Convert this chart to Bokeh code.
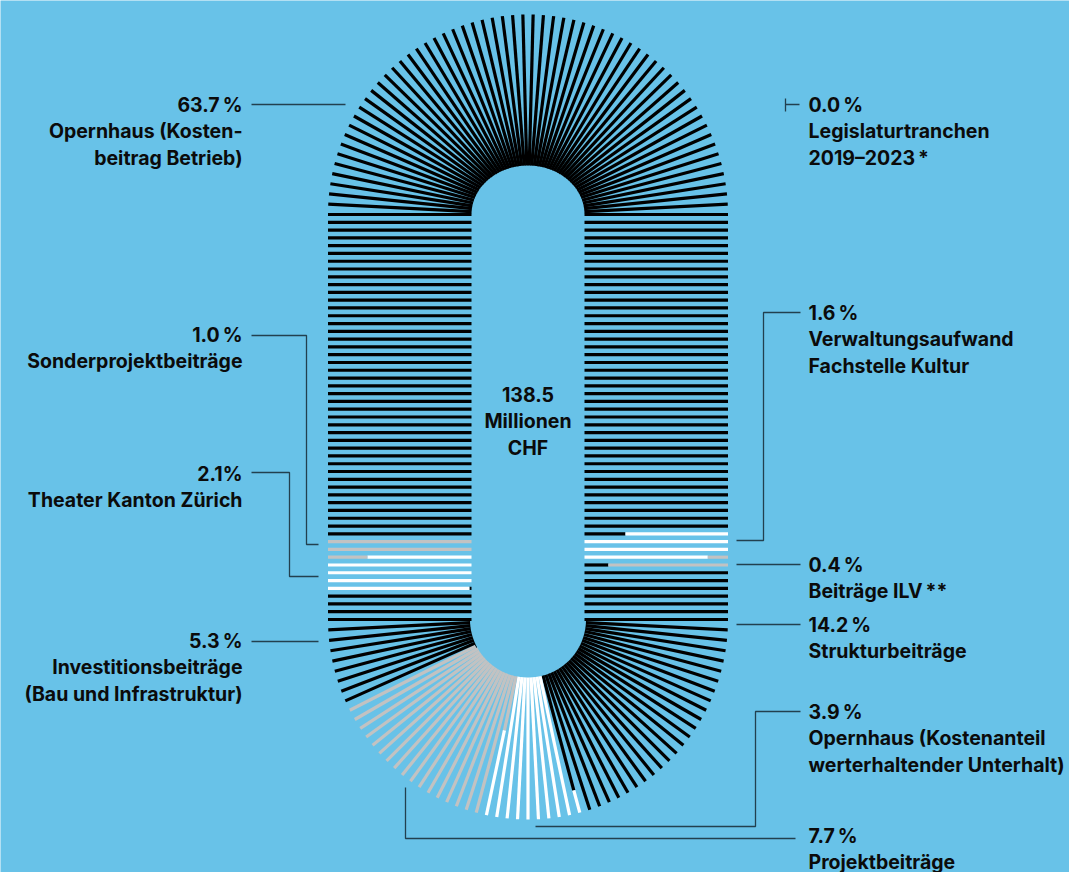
import numpy as np
from bokeh.plotting import figure
from bokeh.models import Range1d, ColumnDataSource
from bokeh.embed import file_html
from bokeh.resources import INLINE
from bokeh.core.properties import value

# ---------------- data ----------------
categories = [
    "Opernhaus (Kostenbeitrag Betrieb)",
    "Legislaturtranchen 2019–2023 *",
    "Verwaltungsaufwand Fachstelle Kultur",
    "Beiträge ILV **",
    "Strukturbeiträge",
    "Opernhaus (Kostenanteil werterhaltender Unterhalt)",
    "Projektbeiträge",
    "Investitionsbeiträge (Bau und Infrastruktur)",
    "Theater Kanton Zürich",
    "Sonderprojektbeiträge",
]
# amounts in million CHF (total 138.5)
amounts = [88.2, 0.0, 2.2, 0.6, 19.7, 5.4, 10.7, 7.4, 2.9, 1.4]
share_labels = ["63.7\u2009%", "0.0\u2009%", "1.6\u2009%", "0.4\u2009%", "14.2\u2009%",
                "3.9\u2009%", "7.7\u2009%", "5.3\u2009%", "2.1%", "1.0\u2009%"]
name_lines = [
    ["Opernhaus (Kosten-", "beitrag Betrieb)"],
    ["Legislaturtranchen", "2019–2023\u2009*"],
    ["Verwaltungsaufwand", "Fachstelle Kultur"],
    ["Beiträge ILV\u2009**"],
    ["Strukturbeiträge"],
    ["Opernhaus (Kostenanteil", "werterhaltender Unterhalt)"],
    ["Projektbeiträge"],
    ["Investitionsbeiträge", "(Bau und Infrastruktur)"],
    ["Theater Kanton Zürich"],
    ["Sonderprojektbeiträge"],
]
total_lines = ["138.5", "Millionen", "CHF"]

# ---------------- style / layout ----------------
W, H = 1069, 872
BG = "#68C2E8"
BLACK, WHITE, GREY = "#000000", "#FFFFFF", "#C2C2C2"
cat_colors = [BLACK, WHITE, WHITE, GREY, BLACK, WHITE, GREY, BLACK, WHITE, GREY]
earlier_inner = [True, True, True, False, True, False, False, True, True, True]
LEADER = "#22404f"
FONT = value("Inter")
FS = "19.5px"

CX, CY_TOP, CY_BOT = 527.5, 214.0, 619.0
R_IN, R_OUT = 56.5, 200.0
R_IN_TOP_V = 49.0          # the upper hole is slightly flattened
N_TOP, N_SIDE, N_BOT = 60, 53, 59
N = N_TOP + 2 * N_SIDE + N_BOT
START = N_TOP + N_SIDE + N_BOT + 11   # sequence begins on left side


def line_geom(i):
    """centre, unit direction, inner radius for path position i (clockwise)."""
    if i < N_TOP:
        th = np.pi * (i + 1) / (N_TOP + 1)
        c, s = np.cos(th), np.sin(th)
        rin = R_IN * R_IN_TOP_V / np.sqrt((R_IN_TOP_V * c) ** 2 + (R_IN * s) ** 2)
        return (CX, CY_TOP), (-c, -s), rin
    i -= N_TOP
    step = (CY_BOT - CY_TOP) / (N_SIDE - 1)
    if i < N_SIDE:
        return (CX, CY_TOP + i * step), (1.0, 0.0), R_IN
    i -= N_SIDE
    if i < N_BOT:
        ph = np.pi * (i + 1) / (N_BOT + 1)
        return (CX, CY_BOT), (np.cos(ph), np.sin(ph)), R_IN + 1.5
    i -= N_BOT
    return (CX, CY_BOT - i * step), (-1.0, 0.0), R_IN


# cumulative boundaries in line units
unit = N / sum(amounts)
bounds = [0.0]
for a_ in amounts:
    bounds.append(bounds[-1] + a_ * unit)
bounds[-1] = float(N)

x0s, y0s, x1s, y1s, cols = [], [], [], [], []
for q in range(N):
    pieces = []
    for c in range(len(amounts)):
        a, b = max(bounds[c], q), min(bounds[c + 1], q + 1)
        if b - a > 1e-9:
            pieces.append((c, b - a))
    if len(pieces) > 1 and not earlier_inner[pieces[0][0]]:
        pieces = pieces[::-1]
    (cx, cy), (ux, uy), rin = line_geom((START + q) % N)
    f = 0.0
    for c, w in pieces:
        r0 = rin + f * (R_OUT - rin)
        r1 = rin + (f + w) * (R_OUT - rin)
        x0s.append(cx + ux * r0); y0s.append(cy + uy * r0)
        x1s.append(cx + ux * r1); y1s.append(cy + uy * r1)
        cols.append(cat_colors[c])
        f += w

p = figure(width=W, height=H, output_backend="svg", toolbar_location=None,
           x_range=Range1d(0, W), y_range=Range1d(H, 0), min_border=0)
p.background_fill_color = BG
p.border_fill_color = BG
p.outline_line_color = None
p.axis.visible = False
p.grid.visible = False

src = ColumnDataSource(dict(x0=x0s, y0=y0s, x1=x1s, y1=y1s, c=cols))
p.segment("x0", "y0", "x1", "y1", source=src, line_color="c", line_width=3.2)

# labels: (category index, side, x, first-line y, leader polyline)
label_layout = [
    (0, "left", 242, 104, [(251, 104), (345, 104)]),
    (9, "left", 242, 334, [(251, 335), (306, 335), (306, 544), (318, 544)]),
    (8, "left", 242, 473, [(251, 472), (289, 472), (289, 576), (318, 576)]),
    (7, "left", 242, 640, [(251, 641), (318, 641)]),
    (1, "right", 808, 104, [(785, 104), (799, 104)]),
    (2, "right", 808, 312, [(800, 312), (763, 312), (763, 540), (736, 540)]),
    (3, "right", 808, 564, [(800, 564), (736, 564)]),
    (4, "right", 808, 624, [(800, 624), (736, 624)]),
    (5, "right", 808, 711, [(800, 711), (755, 711), (755, 826), (535, 826)]),
    (6, "right", 808, 835, [(795, 838), (405, 838), (405, 787)]),
]
LH = 26.5
tx, ty, tt, ta = [], [], [], []
lx, ly = [], []
for c, side, x, y, pts in label_layout:
    texts = [share_labels[c]] + name_lines[c]
    for n, t in enumerate(texts):
        tx.append(x); ty.append(y + n * LH); tt.append(t)
        ta.append("right" if side == "left" else "left")
    lx.append([pt[0] for pt in pts]); ly.append([pt[1] for pt in pts])
# zero-width tick for the 0.0 % item
lx.append([785, 785]); ly.append([98, 111])

p.multi_line(lx, ly, line_color=LEADER, line_width=1.3)
tsrc = ColumnDataSource(dict(x=tx, y=ty, t=tt, a=ta))
p.text("x", "y", text="t", source=tsrc, text_align="a", text_baseline="middle",
       text_font=FONT, text_font_size=FS, text_font_style="bold", text_color="#0b0b0b")

p.text([CX] * 3, [CY_TOP + 180 + n * LH for n in range(3)], text=total_lines,
       text_align="center", text_baseline="middle", text_font=FONT,
       text_font_size=FS, text_font_style="bold", text_color="#0b0b0b")

html = file_html(p, INLINE, title="Kulturförderung")
html = html.replace("<body>", '<body style="background-color:%s;">' % BG, 1)
open("out.html", "w").write(html)
